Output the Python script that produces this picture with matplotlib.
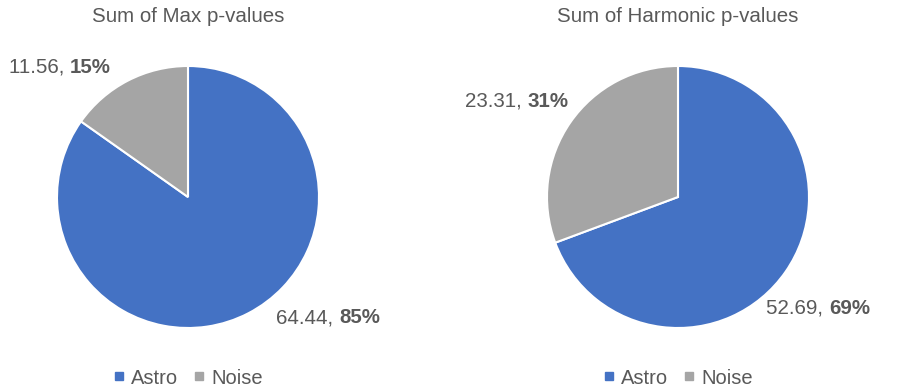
import matplotlib
matplotlib.use('Agg')
import matplotlib.pyplot as plt
from matplotlib.lines import Line2D

plt.rcParams.update({
    'font.family': ['Liberation Sans', 'DejaVu Sans'],
    'text.color': '#595959',
})

categories = ['Astro', 'Noise']
colors = ['#4472C4', '#A5A5A5']
titles = ['Sum of Max p-values', 'Sum of Harmonic p-values']
max_values = [64.44, 11.56]
harmonic_values = [52.69, 23.31]

# label anchor offsets from the pie centre (in radii), one per wedge
label_pos = [
    [(1.07, -0.92), (-0.98, 0.99)],
    [(1.07, -0.85), (-1.23, 0.73)],
]

W, H = 899, 391
fig = plt.figure(figsize=(W / 100, H / 100), dpi=100)
R = 131
centres = [(188, 197), (678, 197)]


def draw_pie(ax, values, title, lpos, cx):
    ax.pie(values, colors=colors, startangle=90, counterclock=False,
           radius=1, wedgeprops=dict(edgecolor='white', linewidth=1.5))
    ax.set_xlim(-1, 1)
    ax.set_ylim(-1, 1)
    ax.set_aspect('equal')
    ax.axis('off')
    total = sum(values)
    for v, (x, y) in zip(values, lpos):
        pct = f'{v / total * 100:.0f}%'
        num = f'{v:.2f}, '
        # measure number and bold percent so the pair is centred on (x, y)
        t1 = ax.text(x, y, num, fontsize=14.8, ha='left', va='center')
        t2 = ax.annotate(pct, xy=(1, 0.5), xycoords=t1, fontsize=14.8,
                         fontweight='bold', ha='left', va='center')
        fig.canvas.draw()
        r = fig.canvas.get_renderer()
        w = t1.get_window_extent(r).width + t2.get_window_extent(r).width
        inv = ax.transData.inverted()
        px, py = ax.transData.transform((x, y))
        nx, _ = inv.transform((px - w / 2, py))
        t1.set_x(nx)
    fig.text(cx / W, 1 - 17 / H, title, ha='center', va='center', fontsize=14.8)
    handles = [Line2D([], [], marker='s', linestyle='none', color=c,
                      markersize=6) for c in colors]
    fig.legend(handles, categories, loc='center', ncol=2, frameon=False,
               bbox_to_anchor=(cx / W, 1 - 378 / H), fontsize=14.5,
               handletextpad=0.3, columnspacing=0.75, handlelength=0.6)


for (cx, cy), vals, title, lpos in zip(centres, [max_values, harmonic_values],
                                        titles, label_pos):
    ax = fig.add_axes([(cx - R) / W, (H - cy - R) / H, 2 * R / W, 2 * R / H])
    draw_pie(ax, vals, title, lpos, cx)

fig.savefig('out.png', dpi=100, facecolor='white')
